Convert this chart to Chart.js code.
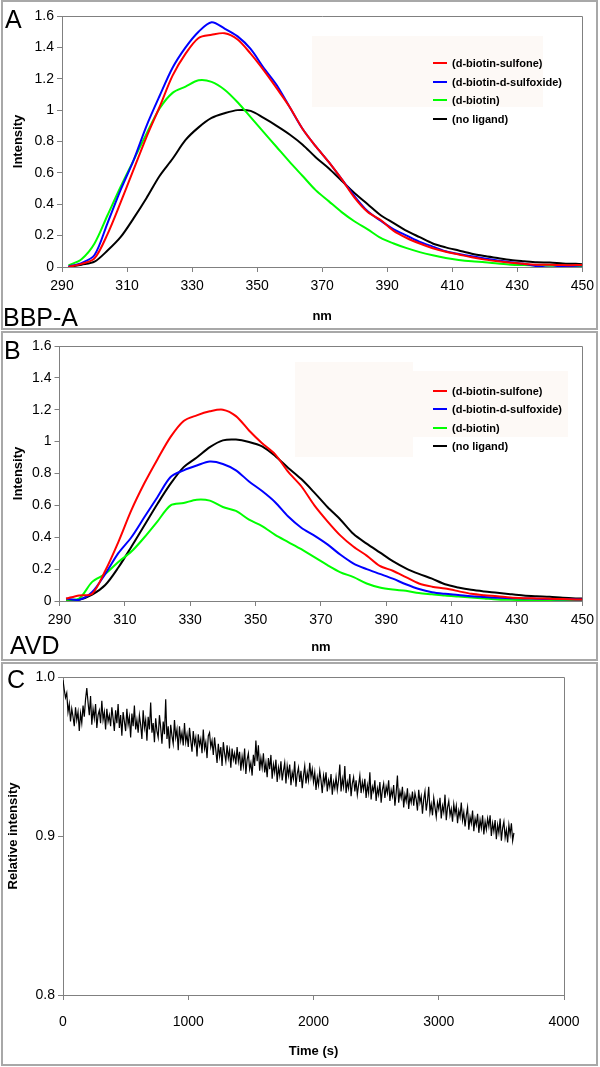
<!DOCTYPE html>
<html>
<head>
<meta charset="utf-8">
<script src="https://cdn.jsdelivr.net/npm/chart.js@4.4.1/dist/chart.umd.min.js"></script>
<style>
  body { margin: 0; background: #fff; width: 600px; height: 1067px; position: relative; overflow: hidden;
         font-family: "Liberation Sans", Arial, sans-serif; }
  .panel { position: absolute; left: 1px; width: 597px; border: 2px solid #a8a8a8; box-sizing: border-box; }
  .pale { position: absolute; background: #fdf9f6; }
  canvas { position: absolute; left: 0; }
  .letter { position: absolute; font-size: 25px; line-height: 25px; color: #000; }
  .leg { position: absolute; left: 452px; height: 14px; line-height: 14px; font-size: 11px; font-weight: bold; color: #000; white-space: nowrap; }
  .legline { position: absolute; left: 433px; width: 14px; height: 2px; }
</style>
</head>
<body>
<div class="panel" style="top:0px;height:330px"></div>
<div class="panel" style="top:331px;height:330px"></div>
<div class="panel" style="top:662px;height:404px"></div>

<div class="pale" style="left:312px;top:36px;width:231px;height:71px"></div>
<div class="pale" style="left:295px;top:362px;width:118px;height:95px"></div>
<div class="pale" style="left:413px;top:371px;width:155px;height:66px"></div>

<canvas id="chartA" width="600" height="330" style="top:0px"></canvas>
<canvas id="chartB" width="600" height="330" style="top:331px"></canvas>
<canvas id="chartC" width="600" height="405" style="top:662px"></canvas>

<div class="letter" style="left:5px;top:7px">A</div>
<div class="letter" style="left:3px;top:305px">BBP-A</div>
<div class="letter" style="left:4px;top:338px">B</div>
<div class="letter" style="left:10px;top:633px">AVD</div>
<div class="letter" style="left:7px;top:667px">C</div>

<div id="legends"></div>

<script>
// wavelength grid (nm)
const wavelengths = [292, 296, 300, 304, 308, 312, 316, 320, 324, 328, 332, 336, 340, 344, 348, 352, 356, 360, 364, 368,
  372, 376, 380, 384, 388, 392, 396, 400, 404, 408, 412, 416, 420, 424, 428, 432, 436, 440, 444, 448, 450];

const seriesNames = ['(d-biotin-sulfone)', '(d-biotin-d-sulfoxide)', '(d-biotin)', '(no ligand)'];
const seriesColors = ['#ff0000', '#0000ff', '#00ff00', '#000000'];

// panel A - BBP-A
const aSulfone = [0.0, 0.02, 0.055, 0.21, 0.41, 0.62, 0.83, 1.02, 1.22, 1.36, 1.46, 1.48, 1.49, 1.45, 1.36, 1.255, 1.14, 1.02,
  0.88, 0.77, 0.67, 0.56, 0.44, 0.35, 0.30, 0.23, 0.185, 0.15, 0.12, 0.097, 0.08, 0.062, 0.047, 0.036, 0.027, 0.02, 0.015,
  0.015, 0.012, 0.012, 0.012];
const aSulfoxide = [0.005, 0.025, 0.076, 0.28, 0.49, 0.68, 0.9, 1.09, 1.27, 1.40, 1.5, 1.56, 1.52, 1.47, 1.39, 1.27, 1.16,
  1.02, 0.88, 0.77, 0.67, 0.56, 0.45, 0.355, 0.295, 0.24, 0.20, 0.16, 0.13, 0.10, 0.083, 0.068, 0.055, 0.042, 0.03, 0.02,
  0.005, -0.005, 0.005, 0.008, 0.01];
const aBiotin = [0.01, 0.05, 0.15, 0.33, 0.51, 0.68, 0.85, 1.01, 1.11, 1.15, 1.19, 1.18, 1.13, 1.05, 0.955, 0.86, 0.765, 0.67,
  0.58, 0.49, 0.42, 0.35, 0.29, 0.24, 0.185, 0.15, 0.12, 0.095, 0.075, 0.058, 0.045, 0.036, 0.03, 0.022, 0.015, 0.012,
  0.01, 0.008, 0.007, 0.006, 0.006];
const aNoLigand = [0.0, 0.015, 0.034, 0.105, 0.19, 0.31, 0.44, 0.58, 0.69, 0.81, 0.89, 0.95, 0.98, 1.0, 0.995, 0.95, 0.9,
  0.845, 0.78, 0.70, 0.63, 0.55, 0.47, 0.40, 0.33, 0.28, 0.23, 0.19, 0.15, 0.125, 0.105, 0.085, 0.07, 0.057, 0.045, 0.037,
  0.03, 0.028, 0.023, 0.02, 0.018];

// panel B - AVD
const bSulfone = [0.015, 0.035, 0.046, 0.19, 0.37, 0.57, 0.74, 0.89, 1.03, 1.13, 1.165, 1.19, 1.2, 1.16, 1.07, 0.99, 0.92,
  0.81, 0.72, 0.60, 0.50, 0.41, 0.34, 0.285, 0.22, 0.19, 0.15, 0.11, 0.09, 0.078, 0.062, 0.045, 0.036, 0.03, 0.022, 0.018,
  0.016, 0.014, 0.012, 0.01, 0.01];
const bSulfoxide = [0.015, 0.008, 0.056, 0.17, 0.30, 0.40, 0.527, 0.653, 0.778, 0.82, 0.85, 0.875, 0.86, 0.82, 0.75, 0.69,
  0.62, 0.53, 0.46, 0.41, 0.355, 0.29, 0.235, 0.2, 0.17, 0.14, 0.105, 0.075, 0.055, 0.045, 0.038, 0.03, 0.025, 0.02, 0.018,
  0.016, 0.014, 0.012, 0.011, 0.01, 0.01];
const bBiotin = [0.008, 0.015, 0.12, 0.17, 0.245, 0.31, 0.40, 0.50, 0.60, 0.615, 0.636, 0.63, 0.59, 0.565, 0.51, 0.47, 0.415,
  0.37, 0.325, 0.275, 0.225, 0.18, 0.15, 0.11, 0.085, 0.072, 0.064, 0.05, 0.042, 0.034, 0.028, 0.022, 0.016, 0.01, 0.008,
  0.006, 0.005, 0.005, 0.004, 0.004, 0.004];
const bNoLigand = [0.008, 0.008, 0.04, 0.10, 0.21, 0.34, 0.475, 0.61, 0.736, 0.84, 0.90, 0.965, 1.008, 1.013, 0.998, 0.97,
  0.91, 0.835, 0.765, 0.68, 0.59, 0.51, 0.42, 0.36, 0.305, 0.25, 0.205, 0.17, 0.14, 0.105, 0.085, 0.07, 0.06, 0.052, 0.043,
  0.035, 0.03, 0.026, 0.02, 0.016, 0.015];

// panel C - relative intensity, one reading every 10 s from 0 to 3600 s
const timeStep = 10;
const relIntensity = [
  0.998, 0.992, 0.987, 0.990, 0.978, 0.983, 0.972, 0.980, 0.975, 0.969, 0.981, 0.973, 0.978, 0.966, 0.977, 0.971, 0.982, 0.975, 0.986, 0.993,
  0.984, 0.976, 0.988, 0.970, 0.980, 0.974, 0.983, 0.968, 0.976, 0.979, 0.971, 0.985, 0.973, 0.978, 0.967, 0.980, 0.972, 0.976, 0.969, 0.981,
  0.974, 0.966, 0.979, 0.971, 0.983, 0.968, 0.976, 0.963, 0.978, 0.972, 0.966, 0.980, 0.970, 0.975, 0.962, 0.977, 0.969, 0.982, 0.967, 0.973,
  0.965, 0.976, 0.970, 0.961, 0.979, 0.968, 0.973, 0.960, 0.975, 0.967, 0.984, 0.965, 0.971, 0.959, 0.974, 0.966, 0.962, 0.976, 0.968, 0.958,
  0.972, 0.964, 0.986, 0.961, 0.969, 0.955, 0.970, 0.963, 0.958, 0.973, 0.962, 0.967, 0.954, 0.969, 0.960, 0.965, 0.957, 0.971, 0.959, 0.964,
  0.956, 0.968, 0.960, 0.953, 0.966, 0.958, 0.962, 0.950, 0.964, 0.957, 0.961, 0.952, 0.967, 0.955, 0.959, 0.949, 0.963, 0.965, 0.956, 0.960,
  0.951, 0.962, 0.954, 0.946, 0.958, 0.950, 0.956, 0.944, 0.959, 0.952, 0.947, 0.957, 0.949, 0.954, 0.943, 0.955, 0.948, 0.952, 0.945, 0.956,
  0.947, 0.953, 0.941, 0.950, 0.944, 0.955, 0.939, 0.948, 0.952, 0.942, 0.946, 0.938, 0.951, 0.944, 0.960, 0.947, 0.957, 0.941, 0.949, 0.943,
  0.952, 0.940, 0.946, 0.937, 0.949, 0.942, 0.951, 0.936, 0.945, 0.940, 0.948, 0.934, 0.943, 0.938, 0.947, 0.935, 0.941, 0.946, 0.933, 0.944,
  0.938, 0.945, 0.932, 0.940, 0.936, 0.947, 0.931, 0.939, 0.943, 0.934, 0.941, 0.930, 0.938, 0.944, 0.933, 0.940, 0.935, 0.946, 0.937, 0.942,
  0.934, 0.940, 0.929, 0.937, 0.932, 0.941, 0.935, 0.927, 0.938, 0.933, 0.940, 0.928, 0.935, 0.931, 0.939, 0.926, 0.934, 0.930, 0.937, 0.929,
  0.935, 0.945, 0.928, 0.936, 0.931, 0.944, 0.927, 0.934, 0.930, 0.939, 0.925, 0.933, 0.937, 0.928, 0.935, 0.926, 0.932, 0.938, 0.927, 0.934,
  0.929, 0.936, 0.924, 0.932, 0.927, 0.940, 0.923, 0.931, 0.928, 0.935, 0.922, 0.930, 0.926, 0.934, 0.921, 0.929, 0.933, 0.924, 0.931, 0.927,
  0.935, 0.922, 0.929, 0.925, 0.932, 0.919, 0.927, 0.938, 0.921, 0.928, 0.924, 0.931, 0.918, 0.926, 0.922, 0.930, 0.917, 0.925, 0.921, 0.928,
  0.919, 0.927, 0.923, 0.916, 0.929, 0.921, 0.925, 0.914, 0.923, 0.928, 0.916, 0.922, 0.931, 0.915, 0.920, 0.913, 0.924, 0.918, 0.912, 0.921,
  0.917, 0.924, 0.911, 0.919, 0.915, 0.926, 0.910, 0.918, 0.922, 0.913, 0.917, 0.909, 0.920, 0.914, 0.919, 0.908, 0.916, 0.912, 0.921, 0.910,
  0.915, 0.906, 0.913, 0.918, 0.904, 0.912, 0.908, 0.916, 0.903, 0.911, 0.907, 0.914, 0.902, 0.910, 0.905, 0.913, 0.901, 0.909, 0.904, 0.911,
  0.906, 0.913, 0.900, 0.908, 0.903, 0.910, 0.898, 0.907, 0.902, 0.911, 0.897, 0.905, 0.909, 0.899, 0.904, 0.896, 0.907, 0.901, 0.908, 0.897,
  0.902];

Chart.defaults.font.family = '"Liberation Sans", Arial, sans-serif';
Chart.defaults.color = '#000';

const axisGray = '#808080';

// top and right edges of the plot area
const frame = {
  id: 'frame',
  beforeDatasetsDraw(chart) {
    const a = chart.chartArea, ctx = chart.ctx;
    ctx.save();
    ctx.strokeStyle = axisGray;
    ctx.lineWidth = 1;
    ctx.beginPath();
    ctx.moveTo(a.left, Math.round(a.top) + 0.5);
    ctx.lineTo(Math.round(a.right) + 0.5, Math.round(a.top) + 0.5);
    ctx.lineTo(Math.round(a.right) + 0.5, a.bottom);
    ctx.stroke();
    ctx.restore();
  }
};

function axis(opts) {
  return {
    type: 'linear',
    min: opts.min, max: opts.max,
    afterFit: opts.fit,
    grid: { drawOnChartArea: false, drawTicks: true, tickLength: 5, color: axisGray },
    border: { color: axisGray },
    ticks: { stepSize: opts.step, autoSkip: false, maxRotation: 0, padding: opts.pad,
             font: { size: opts.fontSize }, callback: opts.fmt },
    title: { display: true, text: opts.title, font: { size: 13, weight: 'bold' }, padding: { top: 4, bottom: 4 } }
  };
}

function spectrumChart(id, values, g) {
  new Chart(document.getElementById(id), {
    type: 'line',
    data: {
      datasets: values.map((vals, k) => ({
        label: seriesNames[k],
        data: wavelengths.map((w, i) => ({ x: w, y: vals[i] })),
        borderColor: seriesColors[k],
        borderWidth: 2,
        pointRadius: 0,
        tension: 0.3,
        fill: false
      }))
    },
    options: {
      responsive: false, animation: false, devicePixelRatio: 1,
      layout: { padding: g.padding },
      plugins: { legend: { display: false }, tooltip: { enabled: false } },
      scales: {
        x: axis({ min: 290, max: 450, step: 20, pad: 6, fontSize: 14, title: 'nm',
                  fit: s => { s.height = g.xh; } }),
        y: axis({ min: 0, max: 1.6, step: 0.2, pad: 3, fontSize: 14, title: 'Intensity',
                  fmt: v => String(+v.toFixed(1)), fit: s => { s.width = g.yw; } })
      }
    },
    plugins: [frame]
  });
}

spectrumChart('chartA', [aSulfone, aSulfoxide, aBiotin, aNoLigand],
  { padding: { left: 7, right: 14, top: 16, bottom: 2 }, yw: 55, xh: 61 });
spectrumChart('chartB', [bSulfone, bSulfoxide, bBiotin, bNoLigand],
  { padding: { left: 7, right: 14, top: 15, bottom: 2 }, yw: 52.5, xh: 58 });

new Chart(document.getElementById('chartC'), {
  type: 'line',
  data: {
    datasets: [{
      label: 'Relative intensity',
      data: relIntensity.map((v, i) => ({ x: i * timeStep, y: v })),
      borderColor: '#000',
      borderWidth: 1.2,
      pointRadius: 0,
      tension: 0,
      fill: false
    }]
  },
  options: {
    responsive: false, animation: false, devicePixelRatio: 1,
    layout: { padding: { left: 2, right: 36, top: 15, bottom: 4 } },
    plugins: { legend: { display: false }, tooltip: { enabled: false } },
    scales: {
      x: axis({ min: 0, max: 4000, step: 1000, pad: 14, fontSize: 14, title: 'Time (s)',
                fit: s => { s.height = 68; } }),
      y: axis({ min: 0.8, max: 1.0, step: 0.1, pad: 3, fontSize: 14, title: 'Relative intensity',
                fmt: v => v.toFixed(1), fit: s => { s.width = 61; } })
    }
  },
  plugins: [frame]
});

// legends
const legendRows = [[63, 82, 100, 119], [391, 409, 428, 446]];
const legendBox = document.getElementById('legends');
legendRows.forEach(rows => {
  rows.forEach((cy, k) => {
    const line = document.createElement('div');
    line.className = 'legline';
    line.style.top = (cy - 1) + 'px';
    line.style.background = seriesColors[k];
    legendBox.appendChild(line);
    const txt = document.createElement('div');
    txt.className = 'leg';
    txt.style.top = (cy - 7) + 'px';
    txt.textContent = seriesNames[k];
    legendBox.appendChild(txt);
  });
});
</script>
</body>
</html>
